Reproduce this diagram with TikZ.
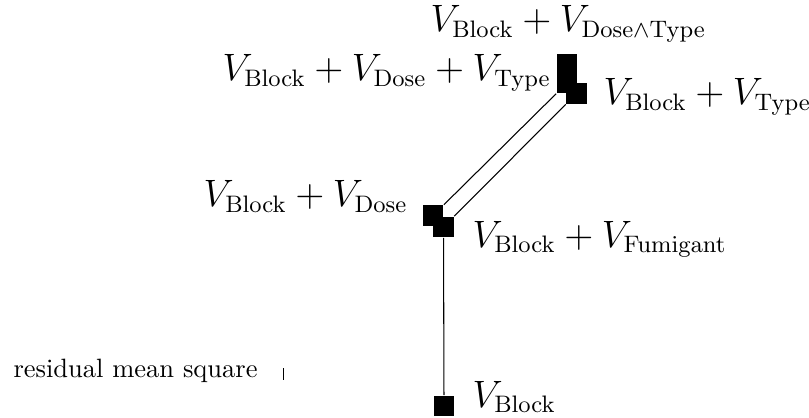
\documentclass[tikz,border=0pt]{standalone}
\usepackage{tikz}
\usetikzlibrary{positioning}

\begin{document}
\begin{tikzpicture}[x=0.3774pt, y=-0.3774pt,
	term/.style={fill=black, draw=none, minimum size=7.8pt, inner sep=0pt},
	lbl/.style={anchor=base west, inner sep=0pt, font=\fontsize{13.4}{16}\selectfont}]
			\useasboundingbox (0,0) rectangle (809,418);

			% the mean squares
			\node[term] (blk)  at (444,406) {};
			\node[term] (fum)  at (443.5,227) {};
			\node[term] (dose) at (433,215.5) {};
			\node[term] (dt)   at (567,83) {};
			\node[term] (type) at (576.5,93.5) {};
			\node[term] (dxt)  at (567,64) {};

			\draw (blk) -- (fum);
			\draw (dose) -- (dt);
			\draw (fum) -- (type);

			\node[lbl] (l1) at (472,407) {$V_{\mathrm{Block}}$};
			\node[lbl] (l2) at (472,247) {$V_{\mathrm{Block}}+V_{\mathrm{Fumigant}}$};
			\node[lbl] (l3) at (203,207) {$V_{\mathrm{Block}}+V_{\mathrm{Dose}}$};
			\node[lbl] (l4) at (603,105) {$V_{\mathrm{Block}}+V_{\mathrm{Type}}$};
			\node[lbl] (l5) at (222,81) {$V_{\mathrm{Block}}+V_{\mathrm{Dose}}+V_{\mathrm{Type}}$};
			\node[lbl] (l6) at (430,32) {$V_{\mathrm{Block}}+V_{\mathrm{Dose}\wedge\mathrm{Type}}$};

			\node[anchor=base west, inner sep=0pt] (rms) at (13,377) {residual mean square};
			\draw[line width=0.3pt] (283,368) -- (283,380);
\end{tikzpicture}
\end{document}
